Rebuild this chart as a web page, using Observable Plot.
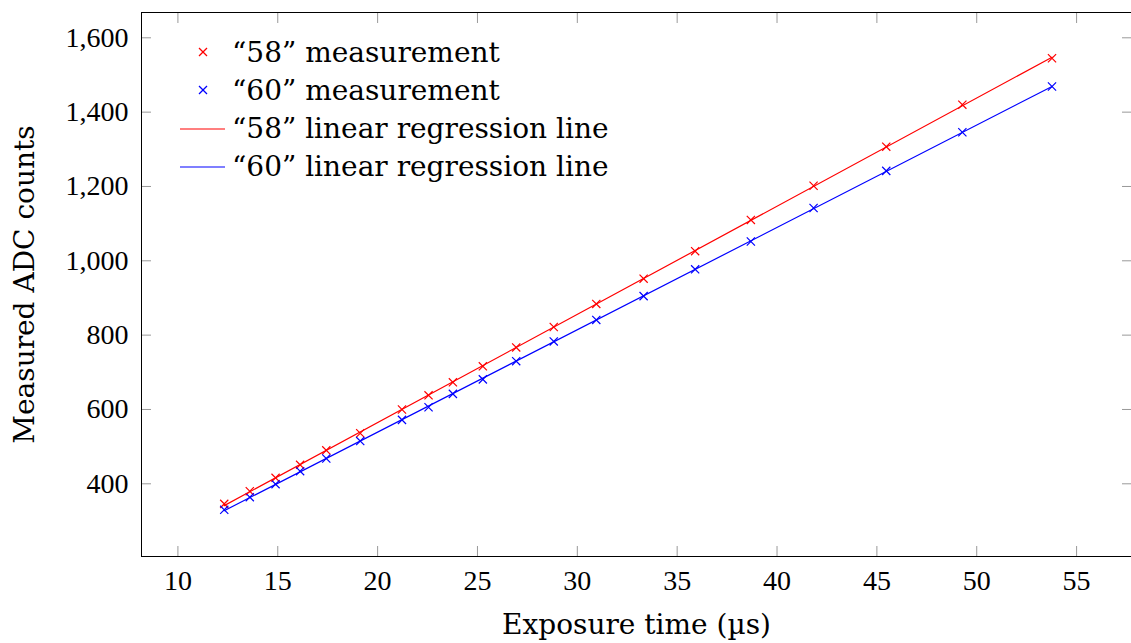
<!DOCTYPE html>
<html><head><meta charset="utf-8">
<script src="https://cdn.jsdelivr.net/npm/d3@7"></script>
<script src="https://cdn.jsdelivr.net/npm/@observablehq/plot@0.6"></script>
<style>
body{margin:0;background:#fff;}
#wrap{position:relative;width:1131px;height:643px;overflow:hidden;}
.lg-row{position:absolute;left:175px;height:38px;display:flex;align-items:center;font-family:"DejaVu Serif",serif;font-size:28px;color:#000;white-space:nowrap;}
.lg-row svg{display:block;}
</style></head><body><div id="wrap"></div>
<script>
// Exposure time (µs)
const exposure = [12.32, 13.60, 14.89, 16.12, 17.43, 19.13, 21.22, 22.55, 23.77, 25.27, 26.94, 28.82, 30.95, 33.32, 35.90, 38.69, 41.83, 45.47, 49.28, 53.77];
// Measured ADC counts, sensor "58"
const adc58 = [346, 380, 416, 451, 490, 536, 600, 638, 673, 716, 767, 822, 884, 952, 1026, 1110, 1202, 1307, 1420, 1545];
// Measured ADC counts, sensor "60"
const adc60 = [330, 364, 399, 434, 468, 515, 572, 606, 642, 681, 730, 783, 841, 905, 977, 1052, 1142, 1242, 1346, 1469];
const seriesNames = ["58", "60"];
const seriesColors = ["#ff0000", "#0000ff"];
const xTicks = [10, 15, 20, 25, 30, 35, 40, 45, 50, 55];
const yTicks = [400, 600, 800, 1000, 1200, 1400, 1600];
const xDomain = [8.177, 57.75];
const yDomain = [204.4, 1668.1];
const xTitle = "Exposure time (µs)";
const yTitle = "Measured ADC counts";
const legendItems = [
  {label: "\u201C58\u201D measurement", series: 0, kind: "mark"},
  {label: "\u201C60\u201D measurement", series: 1, kind: "mark"},
  {label: "\u201C58\u201D linear regression line", series: 0, kind: "line"},
  {label: "\u201C60\u201D linear regression line", series: 1, kind: "line"}
];

const data = exposure.flatMap((t, i) => [
  {series: seriesNames[0], t, adc: adc58[i]},
  {series: seriesNames[1], t, adc: adc60[i]}
]);

const titleFont = "DejaVu Serif";
const tickFont = "Liberation Serif, DejaVu Serif";
const tickGray = "#999";
const fmtY = d3.format(",");

const chart = Plot.plot({
  width: 1131, height: 643,
  marginLeft: 141, marginRight: 0, marginTop: 12, marginBottom: 87,
  style: {fontFamily: "DejaVu Serif", fontSize: "26px", color: "#000", background: "#fff"},
  x: {domain: xDomain, label: null, axis: null},
  y: {domain: yDomain, label: null, axis: null},
  color: {domain: seriesNames, range: seriesColors},
  marks: [
    // inward ticks on all four sides
    Plot.axisX(xTicks, {anchor: "bottom", tickSize: 10, dy: -10, text: null, stroke: tickGray, label: null}),
    Plot.axisX(xTicks, {anchor: "top", tickSize: 10, dy: 10, text: null, stroke: tickGray, label: null}),
    Plot.axisY(yTicks, {anchor: "left", tickSize: 10, dx: 10, text: null, stroke: tickGray, label: null}),
    Plot.axisY(yTicks, {anchor: "right", tickSize: 10, dx: -10, text: null, stroke: tickGray, label: null}),
    // tick labels
    Plot.text(xTicks, {x: d => d, text: d => String(d), frameAnchor: "bottom", dy: 14, lineAnchor: "top", textAnchor: "middle", fontFamily: tickFont, fontSize: 28}),
    Plot.text(yTicks, {y: d => d, text: d => fmtY(d), frameAnchor: "left", dx: -13, lineAnchor: "middle", textAnchor: "end", fontFamily: tickFont, fontSize: 28}),
    // frame (left, bottom, top)
    Plot.ruleX([xDomain[0]], {stroke: "#000", strokeWidth: 1}),
    Plot.ruleY([yDomain[0]], {stroke: "#000", strokeWidth: 1}),
    Plot.ruleY([yDomain[1]], {stroke: "#000", strokeWidth: 1}),
    // measurements
    Plot.dot(data, {x: "t", y: "adc", stroke: "series", symbol: "times", r: 3.8, strokeWidth: 1.2}),
    // regression lines
    Plot.linearRegressionY(data, {x: "t", y: "adc", stroke: "series", ci: 0, strokeWidth: 1.2}),
    // axis titles
    Plot.text([xTitle], {text: d => d, frameAnchor: "bottom", dy: 69, lineAnchor: "middle", textAnchor: "middle", fontFamily: titleFont, fontSize: 28}),
    Plot.text([yTitle], {text: d => d, frameAnchor: "left", dx: -116, rotate: -90, lineAnchor: "middle", textAnchor: "middle", fontFamily: titleFont, fontSize: 28})
  ]
});

const wrap = document.getElementById("wrap");
wrap.appendChild(chart);

const rowCenters0 = 52.3, rowStep = 38.1;
legendItems.forEach((it, i) => {
  const row = document.createElement("div");
  row.className = "lg-row";
  row.style.top = (rowCenters0 + i * rowStep - 19) + "px";
  const c = seriesColors[it.series];
  const glyph = it.kind === "mark"
    ? `<line x1="24" y1="15" x2="32" y2="23" stroke="${c}" stroke-width="1.2"/><line x1="24" y1="23" x2="32" y2="15" stroke="${c}" stroke-width="1.2"/>`
    : `<line x1="5" y1="19" x2="50" y2="19" stroke="${c}" stroke-width="1.2"/>`;
  row.innerHTML = `<svg width="57" height="38">${glyph}</svg><span>${it.label}</span>`;
  wrap.appendChild(row);
});
</script>
</body></html>
